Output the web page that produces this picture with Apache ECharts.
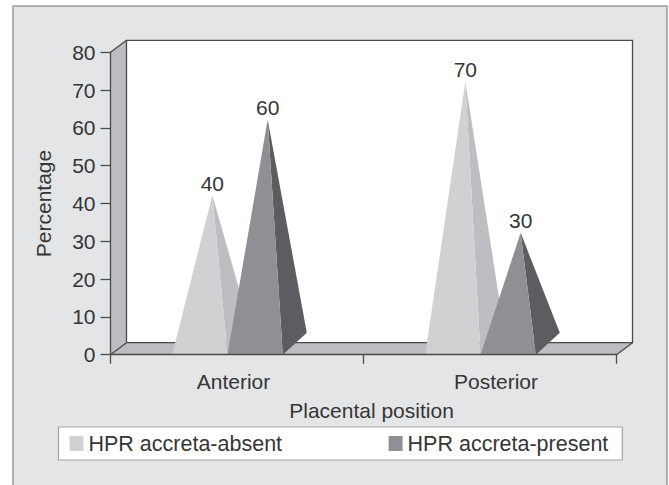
<!DOCTYPE html>
<html>
<head>
<meta charset="utf-8">
<script src="https://cdn.jsdelivr.net/npm/echarts@6/dist/echarts.min.js"></script>
<style>
html,body{margin:0;padding:0;background:#fff;}
#chart{width:669px;height:485px;}
</style>
</head>
<body>
<div id="chart"></div>
<script>
const categories = ['Anterior', 'Posterior'];
const seriesNames = ['HPR accreta-absent', 'HPR accreta-present'];
const absentValues = [40, 70];
const presentValues = [60, 30];
const yMin = 0, yMax = 80, yInterval = 10;
const xAxisTitle = 'Placental position';
const yAxisTitle = 'Percentage';

const FONT = '"Liberation Sans", Arial, sans-serif';
const TEXT = '#363636';
const LIGHT_FRONT = '#d0d1d3', LIGHT_SIDE = '#bdbec1';
const DARK_FRONT = '#8f9093', DARK_SIDE = '#5c5d60';
const WALL_GRAY = '#bcbdc0', EDGE = '#4a4a4a';

function pyramid(which, front, side) {
  return function (params, api) {
    const idx = api.value(0), v = api.value(1);
    const base = api.coord([idx, 0]);
    const top = api.coord([idx, v]);
    const cx = base[0], y0 = base[1];
    const w = 55.3, shift = -9.5;
    const xL = which === 0 ? cx + shift - w : cx + shift;
    const xR = xL + w;
    const apex = [(xL + xR) / 2 + 12.5, top[1] - 8.5];
    const back = [xR + 24, y0 - 22];
    return {
      type: 'group',
      children: [
        { type: 'polygon', shape: { points: [[xR, y0], back, apex] }, style: { fill: side } },
        { type: 'polygon', shape: { points: [[xL, y0], [xR, y0], apex] }, style: { fill: front } },
        { type: 'text', x: apex[0], y: apex[1] - 12,
          style: { text: String(v), fill: TEXT, font: '21px ' + FONT, align: 'center', verticalAlign: 'middle' } }
      ]
    };
  };
}

function frame(params, api) {
  const cs = params.coordSys;
  const L = cs.x, T = cs.y, R = cs.x + cs.width, B = cs.y + cs.height;
  const dx = 16, dy = -12;
  const ln = (pts) => ({ type: 'polyline', shape: { points: pts }, style: { stroke: EDGE, lineWidth: 1.3, fill: null } });
  return {
    type: 'group',
    children: [
      { type: 'rect', shape: { x: L + dx, y: T + dy, width: R - L, height: B - T }, style: { fill: '#ffffff' } },
      { type: 'polygon', shape: { points: [[L, T], [L + dx, T + dy], [L + dx, B + dy], [L, B]] }, style: { fill: WALL_GRAY } },
      { type: 'polygon', shape: { points: [[L, B], [L + dx, B + dy], [R + dx, B + dy], [R, B]] }, style: { fill: WALL_GRAY } },
      ln([[L + dx, B + dy], [L + dx, T + dy], [R + dx, T + dy], [R + dx, B + dy], [L + dx, B + dy]]),
      ln([[L, T], [L + dx, T + dy]]),
      ln([[L, B], [L + dx, B + dy]]),
      ln([[R, B], [R + dx, B + dy]])
    ]
  };
}

const chart = echarts.init(document.getElementById('chart'), null, { renderer: 'svg' });
chart.setOption({
  backgroundColor: '#ffffff',
  animation: false,
  textStyle: { fontFamily: FONT },
  graphic: [{
    type: 'rect', z: -10,
    shape: { x: 13, y: 6, width: 654, height: 495 },
    style: { fill: '#e4e5e7', stroke: '#9d9d9d', lineWidth: 1.5 }
  }],
  grid: { left: 110.5, top: 52.3, width: 506, height: 302.4, containLabel: false },
  legend: {
    data: seriesNames,
    left: 58.5, top: 427,
    padding: [5.5, 14, 5.5, 11],
    itemWidth: 14, itemHeight: 15, itemGap: 106.5,
    icon: 'rect',
    backgroundColor: '#ffffff',
    borderColor: '#a3a3a3', borderWidth: 1.2,
    textStyle: { fontSize: 21.5, color: TEXT, fontFamily: FONT }
  },
  xAxis: {
    type: 'category', z: 5,
    data: [
      { value: categories[0], textStyle: { padding: [0, 7, 0, 0] } },
      { value: categories[1], textStyle: { padding: [0, 0, 0, 12] } }
    ],
    name: xAxisTitle, nameLocation: 'middle', nameGap: 45,
    nameTextStyle: { fontSize: 21, color: TEXT, padding: [0, 0, 0, 16] },
    axisLine: { lineStyle: { color: EDGE, width: 1.3 } },
    axisTick: { show: true, length: 9, lineStyle: { color: EDGE, width: 1.3 } },
    axisLabel: { fontSize: 21, color: TEXT, margin: 16 },
    splitLine: { show: false }
  },
  yAxis: {
    type: 'value', z: 5,
    min: yMin, max: yMax, interval: yInterval,
    name: yAxisTitle, nameLocation: 'middle', nameGap: 57, nameRotate: 90,
    nameTextStyle: { fontSize: 21, color: TEXT },
    axisLine: { show: true, lineStyle: { color: EDGE, width: 1.3 } },
    axisTick: { show: true, length: 10, lineStyle: { color: EDGE, width: 1.3 } },
    axisLabel: { fontSize: 21, color: TEXT, margin: 15 },
    splitLine: { show: false }
  },
  series: [
    { type: 'custom', name: 'frame', silent: true, z: 1, renderItem: frame, data: [[0, 0]], legendHoverLink: false, tooltip: { show: false } },
    { type: 'custom', name: seriesNames[0], z: 2, itemStyle: { color: LIGHT_FRONT },
      renderItem: pyramid(0, LIGHT_FRONT, LIGHT_SIDE),
      data: categories.map((c, i) => [i, absentValues[i]]) },
    { type: 'custom', name: seriesNames[1], z: 3, itemStyle: { color: DARK_FRONT },
      renderItem: pyramid(1, DARK_FRONT, DARK_SIDE),
      data: categories.map((c, i) => [i, presentValues[i]]) }
  ]
});
</script>
</body>
</html>
